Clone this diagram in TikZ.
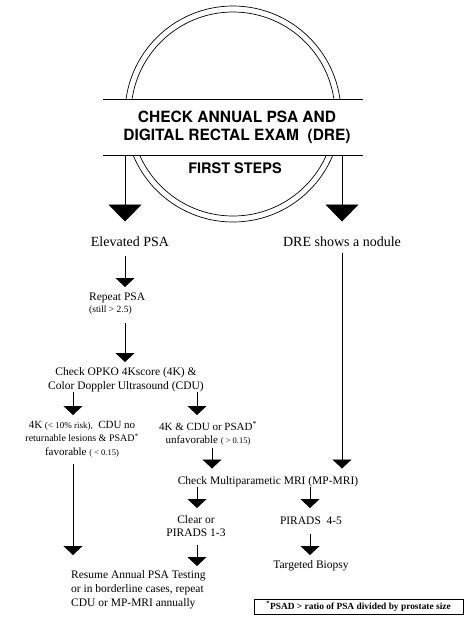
\documentclass[tikz,border=0pt]{standalone}
\usepackage{fontspec}
\setmainfont{Liberation Serif}
\newfontfamily\headfont{TeX Gyre Heros}
\usetikzlibrary{arrows.meta}
\begin{document}
\begin{tikzpicture}[x=1pt,y=-1pt]
				\tikzstyle{Step} = [inner sep=0pt, align=center, font=\fontsize{11.5}{14}\selectfont]
				\tikzstyle{Arrow} = [line width=0.8pt, -{Triangle[width=19pt,length=9pt]}]
				\tikzstyle{BigArrow} = [line width=0.8pt, -{Triangle[width=33pt,length=17pt]}]
				\useasboundingbox (0,0) rectangle (469,641);
				% the ring behind the title band
				\draw[line width=0.7pt] (233,114) circle (108);
				\draw[line width=0.7pt] (233,114) circle (102);
				\node (check) at (233,127.5) [fill=white, minimum width=259, minimum height=55, inner sep=0pt, align=center, font=\headfont\bfseries\fontsize{15.5}{18.5}\selectfont] {\hspace*{8pt}CHECK ANNUAL PSA AND\\\hspace*{8pt}DIGITAL RECTAL EXAM\ \ (DRE)};
				\draw[line width=0.8pt] (check.north west) -- (check.north east);
				\draw[line width=0.8pt] (check.south west) -- (check.south east);
				\node (steps) at (235,168.3) [inner sep=0pt, font=\headfont\bfseries\fontsize{14.5}{16}\selectfont] {FIRST STEPS};
				% columns of the arrows
				\coordinate (lx) at (125,0);
				\coordinate (rx) at (342,0);
				\coordinate (ax) at (73,0);
				\coordinate (bx) at (197,0);
				\coordinate (cx) at (212,0);
				\coordinate (dx) at (310,0);
				% steps
				\node (elev) at (130,236.5) [Step, anchor=north, font=\fontsize{14}{16}\selectfont] {Elevated PSA};
				\node (dre) at (342,236.5) [Step, anchor=north, font=\fontsize{14}{16}\selectfont] {DRE shows a nodule};
				\node (rep) at (89,293) [Step, anchor=north west, align=left, font=\fontsize{11.5}{11.5}\selectfont] {Repeat PSA\\{\fontsize{9.5}{11}\selectfont (still > 2.5)}};
				\node (chk) at (126,367.5) [Step, anchor=north] {Check OPKO 4Kscore (4K) \&\\Color Doppler Ultrasound (CDU)};
				\node (fav) at (82,421) [Step, anchor=north, font=\fontsize{11}{13.3}\selectfont] {4K {\fontsize{9}{11}\selectfont(< 10\% risk),}\ \ CDU no\\{\fontsize{10}{13.3}\selectfont returnable lesions \& PSAD\textsuperscript{*}}\\favorable {\fontsize{8.5}{13.3}\selectfont( < 0.15)}};
				\node (unf) at (208,421) [Step, anchor=north, font=\fontsize{11}{13.5}\selectfont] {4K \& CDU or PSAD\textsuperscript{*}\\unfavorable {\fontsize{8.5}{13.5}\selectfont( > 0.15)}};
				\node (mri) at (268,476.5) [Step, anchor=north] {Check Multiparametic MRI (MP-MRI)};
				\node (clr) at (196,515) [Step, anchor=north, font=\fontsize{11.5}{13.7}\selectfont] {Clear or\\PIRADS 1-3};
				\node (pir) at (311,517) [Step, anchor=north] {PIRADS\ \ 4-5};
				\node (bio) at (311,560) [Step, anchor=north] {Targeted Biopsy};
				\node (res) at (71,570) [Step, anchor=north west, align=left] {Resume Annual PSA Testing\\or in borderline cases, repeat\\CDU or MP-MRI annually};
				\node (note) at (358.5,606.5) [draw, line width=1pt, minimum width=209, minimum height=15, inner sep=0pt, font=\bfseries\fontsize{9.4}{10}\selectfont] {\textsuperscript{*}PSAD > ratio of PSA divided by prostate size};
				% arrows
				\draw[BigArrow, shorten >=15] (check.south -| lx) to (elev.north -| lx);
				\draw[BigArrow, shorten >=15] (check.south -| rx) to (dre.north -| rx);
				\draw[Arrow, shorten <=9, shorten >=6] (elev.south -| lx) to (rep.north -| lx);
				\draw[Arrow, shorten <=8, shorten >=5.5] (rep.south -| lx) to (chk.north -| lx);
				\draw[Arrow, shorten >=6] (chk.south -| ax) to (fav.north -| ax);
				\draw[Arrow, shorten >=6] (chk.south -| bx) to (unf.north -| bx);
				\draw[Arrow, shorten <=7, shorten >=15] (fav.south -| ax) to (res.north -| ax);
				\draw[Arrow, shorten <=2, shorten >=8] (unf.south -| cx) to (mri.north -| cx);
				\draw[Arrow, shorten <=6, shorten >=8] (dre.south -| rx) to (mri.north -| rx);
				\draw[Arrow, shorten >=7] (mri.south -| bx) to (clr.north -| bx);
				\draw[Arrow, shorten >=9] (mri.south -| dx) to (pir.north -| dx);
				\draw[Arrow, shorten <=8, shorten >=4] (clr.south -| bx) to (res.north -| bx);
				\draw[Arrow, shorten <=8.5, shorten >=5] (pir.south -| dx) to (bio.north -| dx);
\end{tikzpicture}
\end{document}
